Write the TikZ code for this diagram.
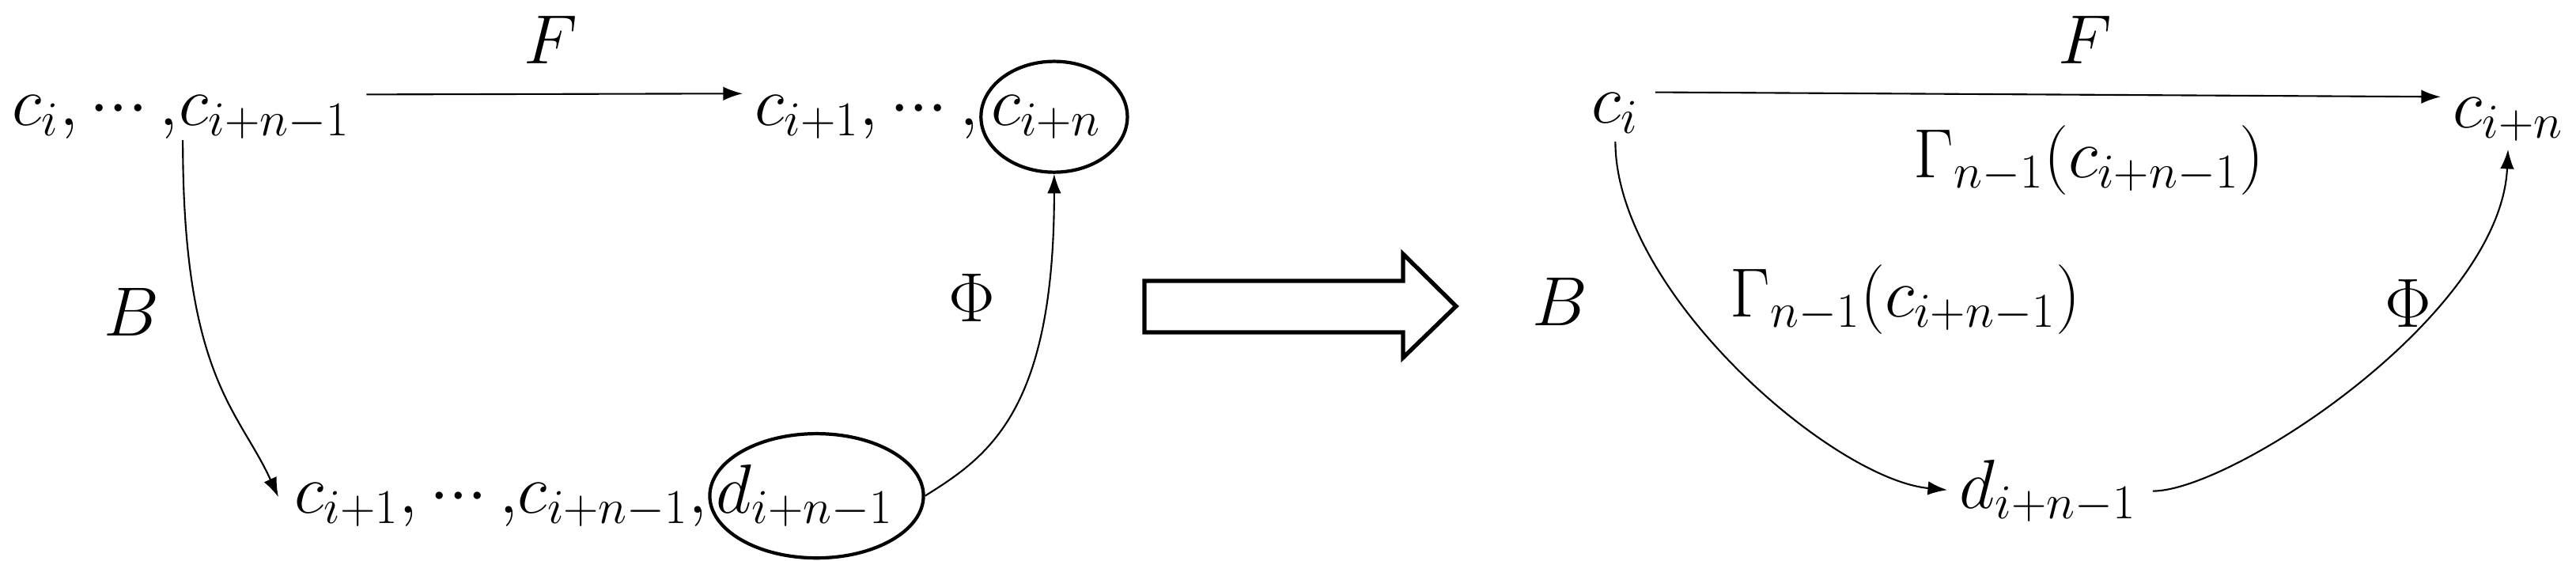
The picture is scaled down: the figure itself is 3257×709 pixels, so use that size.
\documentclass[tikz,border=0pt]{standalone}
\usepackage{fix-cm}
\usepackage{amsmath}
\usetikzlibrary{arrows.meta,shapes.geometric}
\newcommand{\dts}{{\cdot}{\cdot}{\cdot}}

\begin{document}
\begin{tikzpicture}
  [x=0.01cm,y=-0.01cm,
   every node/.style={inner sep=0pt,font=\fontsize{25}{30}\selectfont},
   ring/.style={draw,ellipse,line width=1.2pt},
   arr/.style={-{Latex[length=7pt,width=5pt]},line width=0.6pt}]
  \useasboundingbox (0,0) rectangle (3257,709);

  % before
  \node[anchor=base west] (a1) at (15,158) {$c_i,\dts\,,$};
  \node[anchor=base west] (a2) at (a1.base east) {$c_{i+n-1}$};
  \node[anchor=base west] (b1) at (954,158) {$c_{i+1},\dts\,,\mkern3mu$};
  \node[anchor=base west] (b2) at (b1.base east) {$c_{i+n}$};
  \node[anchor=base west] (c1) at (372,648) {$c_{i+1},\dts\,{,}c_{i+n-1},\mkern2mu$};
  \node[anchor=base west] (c2) at (c1.base east) {$d_{i+n-1}$};
  \node[ring,minimum width=1.85cm,minimum height=1.4cm] (e1) at ([xshift=0.1cm]b2.center) {};
  \node[ring,minimum width=2.7cm,minimum height=1.57cm] (e2) at ([xshift=0.15cm]c2.center) {};
  \node (f1) at (696,50) {$F$};
  \node (g1) at (166,394) {$B$};
  \node (h1) at (1229,376) {$\Phi$};

  \draw[arr,shorten <=0.2cm,shorten >=0.15cm] (a2.north east) -- (b1.north west);
  \draw[arr] ([xshift=0.05cm]a2.south west) .. controls +(0,300) and +(-50,-110) .. ([xshift=-0.2cm,yshift=-0.2cm]c1.north west);
  \draw[arr] (e2.east) .. controls +(80,-50) and +(0,300) .. (e1.south);

  % the big arrow
  \draw[line width=1.5pt] (1447,355) -- (1774,355) -- (1774,321) -- (1841,387)
    -- (1774,452) -- (1774,420) -- (1447,420) -- cycle;

  % after
  \node[anchor=base west] (r1) at (2012,155) {$c_i$};
  \node[anchor=base west] (r2) at (3101,161) {$c_{i+n}$};
  \node[anchor=base west] (r3) at (2477,642) {$d_{i+n-1}$};
  \node (f2) at (2636,50) {$F$};
  \node (g2) at (1972,381) {$B$};
  \node (h2) at (3045,383) {$\Phi$};
  \node[anchor=base west] (k1) at (2419,224) {$\Gamma_{n-1}(c_{i+n-1})$};
  \node[anchor=base west] (k2) at (2187,400) {$\Gamma_{n-1}(c_{i+n-1})$};

  \draw[arr,shorten <=0.2cm,shorten >=0.15cm] (r1.north east) -- (r2.north west);
  \draw[arr,shorten <=0.1cm,shorten >=0.15cm] (r1.south) .. controls +(0,200) and +(-160,-15) .. (r3.west);
  \draw[arr,shorten <=0.2cm,shorten >=0.1cm] (r3.east) .. controls +(120,0) and +(-10,220) .. (r2.south);

\end{tikzpicture}
\end{document}
